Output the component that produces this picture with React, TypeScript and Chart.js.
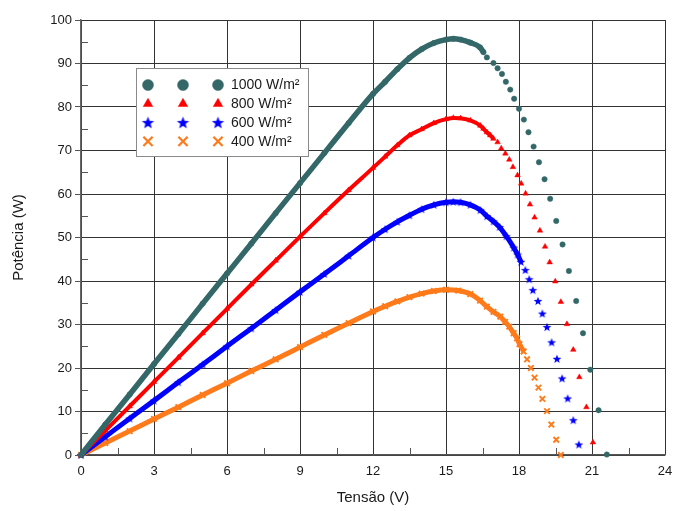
import React, { useEffect, useRef } from "react";
import { Chart, registerables } from "chart.js";
import { drawPoint } from "chart.js/helpers";

Chart.register(...registerables);

// ---- data ----
const seriesLabels = ["1000 W/m²", "800 W/m²", "600 W/m²", "400 W/m²"];

const v1000 = [0, 1, 2, 3, 4, 5, 6, 7, 8, 9, 10, 11, 12, 12.5, 13, 13.5, 14, 14.5, 15, 15.3, 15.6, 16, 16.4, 16.54, 16.68, 16.95, 17.12, 17.3, 17.46, 17.64, 17.8, 18.0, 18.2, 18.39, 18.6, 18.82, 19.05, 19.28, 19.53, 19.79, 20.05, 20.35, 20.63, 20.93, 21.27, 21.61];
const p1000 = [0, 7.0, 13.9, 20.9, 27.8, 34.8, 41.7, 48.6, 55.6, 62.5, 69.4, 76.3, 83.0, 85.8, 88.7, 91.3, 93.3, 94.7, 95.5, 95.7, 95.5, 94.8, 93.7, 92.6, 91.4, 90.1, 88.9, 87.6, 85.8, 84.0, 81.9, 79.6, 77.1, 74.2, 70.9, 67.3, 63.4, 58.9, 53.8, 48.4, 42.3, 35.4, 28.0, 19.6, 10.3, 0.1];

const v800 = [0, 1, 2, 3, 4, 5, 6, 7, 8, 9, 10, 11, 12, 12.5, 13, 13.5, 14, 14.5, 15, 15.3, 15.6, 16, 16.41, 16.54, 16.68, 16.82, 16.95, 17.12, 17.27, 17.44, 17.6, 17.75, 17.94, 18.09, 18.27, 18.45, 18.64, 18.86, 19.07, 19.26, 19.49, 19.72, 19.97, 20.23, 20.48, 20.77, 21.04];
const p800 = [0, 5.6, 11.2, 16.8, 22.4, 28.0, 33.6, 39.2, 44.7, 50.2, 55.6, 60.9, 66.0, 68.6, 71.2, 73.5, 74.9, 76.3, 77.2, 77.5, 77.4, 76.9, 75.7, 75.0, 74.2, 73.5, 72.7, 71.9, 70.5, 69.3, 67.9, 66.2, 64.3, 62.4, 60.1, 57.6, 54.6, 51.6, 47.9, 44.3, 39.9, 35.2, 30.1, 24.2, 17.9, 11.0, 2.9];

const v600 = [0, 1, 2, 3, 4, 5, 6, 7, 8, 9, 10, 11, 12, 12.5, 13, 13.5, 14, 14.5, 15, 15.3, 15.6, 16, 16.41, 16.68, 16.95, 17.2, 17.48, 17.78, 17.94, 18.08, 18.26, 18.42, 18.57, 18.78, 18.96, 19.15, 19.34, 19.56, 19.77, 20.0, 20.23, 20.46];
const p600 = [0, 4.2, 8.4, 12.5, 16.7, 20.8, 25.0, 29.1, 33.3, 37.5, 41.6, 45.8, 50.0, 51.9, 53.6, 55.1, 56.5, 57.5, 58.1, 58.2, 58.1, 57.5, 56.3, 54.9, 53.7, 52.4, 50.3, 47.7, 46.1, 44.4, 42.5, 40.4, 37.9, 35.4, 32.5, 29.4, 25.9, 22.1, 17.6, 13.0, 8.0, 2.4];

const v400 = [0, 1, 2, 3, 4, 5, 6, 7, 8, 9, 10, 11, 12, 12.5, 13, 13.5, 14, 14.5, 15, 15.5, 16, 16.4, 16.68, 16.95, 17.23, 17.43, 17.6, 17.78, 17.92, 18.02, 18.19, 18.33, 18.49, 18.64, 18.8, 18.96, 19.15, 19.33, 19.53, 19.72];
const p400 = [0, 2.75, 5.5, 8.3, 11.0, 13.8, 16.5, 19.3, 22.0, 24.8, 27.6, 30.3, 33.0, 34.2, 35.3, 36.3, 37.1, 37.7, 38.0, 37.8, 37.0, 35.5, 34.1, 32.9, 31.8, 30.6, 29.5, 28.0, 26.8, 25.5, 23.8, 22.0, 20.0, 17.8, 15.5, 12.9, 10.1, 7.0, 3.5, 0];

// voltage up to which the markers are so dense that they merge into a band
const denseUntil = [16.55, 16.96, 18.1, 18.2];

const xTickValues = [0, 3, 6, 9, 12, 15, 18, 21, 24];
const yTickValues = [0, 10, 20, 30, 40, 50, 60, 70, 80, 90, 100];

// ---- styles ----
const colors = ["#346868", "#ff0000", "#0000ff", "#ff7a1a"];
const pointRadii = [2.7, 3.2, 4.6, 3.9];
const bandWidths = [5.5, 4, 5, 5];
const legendRadii = [5.5, 5.5, 6.5, 6.5];
const FONT = "'Liberation Sans', Arial, Helvetica, sans-serif";

const zip = (xs: number[], ys: number[]) => xs.map((x, i) => ({ x, y: ys[i] }));
const seriesData = [zip(v1000, p1000), zip(v800, p800), zip(v600, p600), zip(v400, p400)];

function makeStar(outer: number, color: string): HTMLCanvasElement {
  const size = Math.ceil(outer * 2 + 2);
  const c = document.createElement("canvas");
  c.width = size;
  c.height = size;
  const g = c.getContext("2d")!;
  const cx = size / 2;
  const cy = size / 2 + outer * 0.08;
  const inner = outer * 0.42;
  g.beginPath();
  for (let k = 0; k < 10; k++) {
    const r = k % 2 === 0 ? outer : inner;
    const a = -Math.PI / 2 + (k * Math.PI) / 5;
    const px = cx + r * Math.cos(a);
    const py = cy + r * Math.sin(a);
    if (k === 0) g.moveTo(px, py);
    else g.lineTo(px, py);
  }
  g.closePath();
  g.fillStyle = color;
  g.fill();
  return c;
}

function styleFor(i: number, radius: number): any {
  if (i === 0) return "circle";
  if (i === 1) return "triangle";
  if (i === 2) return makeStar(radius, colors[2]);
  return "crossRot";
}

const minorTicksPlugin = {
  id: "minorTicks",
  beforeDatasetsDraw(chart: any) {
    const { ctx, chartArea, scales } = chart;
    const xs = scales.x;
    const ys = scales.y;
    ctx.save();
    ctx.strokeStyle = "#555";
    ctx.lineWidth = 1;
    const xt = xs.ticks.map((t: any) => t.value);
    for (let i = 0; i < xt.length - 1; i++) {
      const px = Math.round(xs.getPixelForValue((xt[i] + xt[i + 1]) / 2)) + 0.5;
      ctx.beginPath();
      ctx.moveTo(px, chartArea.bottom);
      ctx.lineTo(px, chartArea.bottom - 7);
      ctx.stroke();
    }
    const yt = ys.ticks.map((t: any) => t.value);
    for (let i = 0; i < yt.length - 1; i++) {
      const py = Math.round(ys.getPixelForValue((yt[i] + yt[i + 1]) / 2)) + 0.5;
      ctx.beginPath();
      ctx.moveTo(chartArea.left, py);
      ctx.lineTo(chartArea.left + 7, py);
      ctx.stroke();
    }
    ctx.restore();
  },
};

const boxLegendPlugin = {
  id: "boxLegend",
  afterDatasetsDraw(chart: any) {
    const { ctx, chartArea } = chart;
    const left = chartArea.left + 55;
    const top = chartArea.top + 48;
    const w = 172;
    const h = 88;
    ctx.save();
    ctx.fillStyle = "#ffffff";
    ctx.fillRect(left, top, w, h);
    ctx.strokeStyle = "#8a8a8a";
    ctx.lineWidth = 1;
    ctx.strokeRect(Math.round(left) + 0.5, Math.round(top) + 0.5, w, h);
    seriesLabels.forEach((label, i) => {
      const cy = top + 17 + i * 18.8;
      const style = styleFor(i, legendRadii[i]);
      [12, 47, 82].forEach((dx) => {
        ctx.fillStyle = colors[i];
        ctx.strokeStyle = colors[i];
        const bw = i === 3 ? 2.2 : 0.5;
        ctx.lineWidth = bw;
        drawPoint(
          ctx,
          { pointStyle: style, radius: legendRadii[i], borderWidth: bw, rotation: 0 } as any,
          left + dx,
          cy
        );
      });
      ctx.fillStyle = "#1a1a1a";
      ctx.font = `14px ${FONT}`;
      ctx.textBaseline = "middle";
      ctx.textAlign = "left";
      ctx.fillText(label, left + 95, cy + 0.5);
    });
    ctx.restore();
  },
};

export default function App() {
  const canvasRef = useRef<HTMLCanvasElement | null>(null);

  useEffect(() => {
    if (!canvasRef.current) return;
    const datasets = seriesData.map((data, i) => ({
      label: seriesLabels[i],
      data,
      showLine: true,
      borderColor: colors[i],
      backgroundColor: colors[i],
      borderWidth: bandWidths[i],
      pointStyle: styleFor(i, pointRadii[i]),
      pointRadius: pointRadii[i],
      pointBorderWidth: i === 3 ? 1.9 : 0.5,
      pointBorderColor: colors[i],
      pointBackgroundColor: colors[i],
      pointHoverRadius: pointRadii[i],
      cubicInterpolationMode: "monotone",
      clip: 6,
      segment: {
        borderColor: (ctx: any) => (ctx.p1.parsed.x > denseUntil[i] ? "rgba(0,0,0,0)" : colors[i]),
      },
    }));

    const chart = new Chart(canvasRef.current, {
      type: "scatter",
      data: { datasets },
      options: {
        animation: false,
        responsive: false,
        devicePixelRatio: 1,
        layout: { padding: { top: 20, right: 8, left: 0, bottom: 0 } },
        plugins: { legend: { display: false }, tooltip: { enabled: false } },
        scales: {
          x: {
            type: "linear",
            min: 0,
            max: 24,
            afterBuildTicks: (scale: any) => {
              scale.ticks = xTickValues.map((value) => ({ value }));
            },
            afterFit: (scale: any) => {
              scale.height = 56;
              scale.paddingRight = 0;
              scale.paddingLeft = 0;
            },
            ticks: {
              color: "#1a1a1a",
              font: { family: FONT, size: 13 },
              padding: 9,
              maxRotation: 0,
              callback: (v: any) => String(v),
            },
            grid: { color: "#333", lineWidth: 1, drawTicks: false },
            border: { display: true, color: "#555", width: 1.5 },
            title: {
              display: true,
              text: "Tensão (V)",
              color: "#1a1a1a",
              font: { family: FONT, size: 15 },
              padding: { top: 0, bottom: 4 },
            },
          },
          y: {
            type: "linear",
            min: 0,
            max: 100,
            afterBuildTicks: (scale: any) => {
              scale.ticks = yTickValues.map((value) => ({ value }));
            },
            afterFit: (scale: any) => {
              scale.width = 81;
            },
            ticks: {
              color: "#1a1a1a",
              font: { family: FONT, size: 13 },
              padding: 3,
              callback: (v: any) => String(v),
            },
            grid: { color: "#333", lineWidth: 1, drawTicks: true, tickLength: 6, tickColor: "#555" },
            border: { display: true, color: "#666", width: 1.5 },
            title: {
              display: true,
              text: "Potência (W)",
              color: "#1a1a1a",
              font: { family: FONT, size: 15 },
              padding: { top: 10, bottom: 0 },
            },
          },
        },
      },
      plugins: [minorTicksPlugin, boxLegendPlugin],
    } as any);

    return () => chart.destroy();
  }, []);

  return (
    <div style={{ position: "fixed", left: 0, top: 0, width: 673, height: 511, background: "#fff" }}>
      <canvas ref={canvasRef} width={673} height={511} style={{ display: "block" }} />
    </div>
  );
}
